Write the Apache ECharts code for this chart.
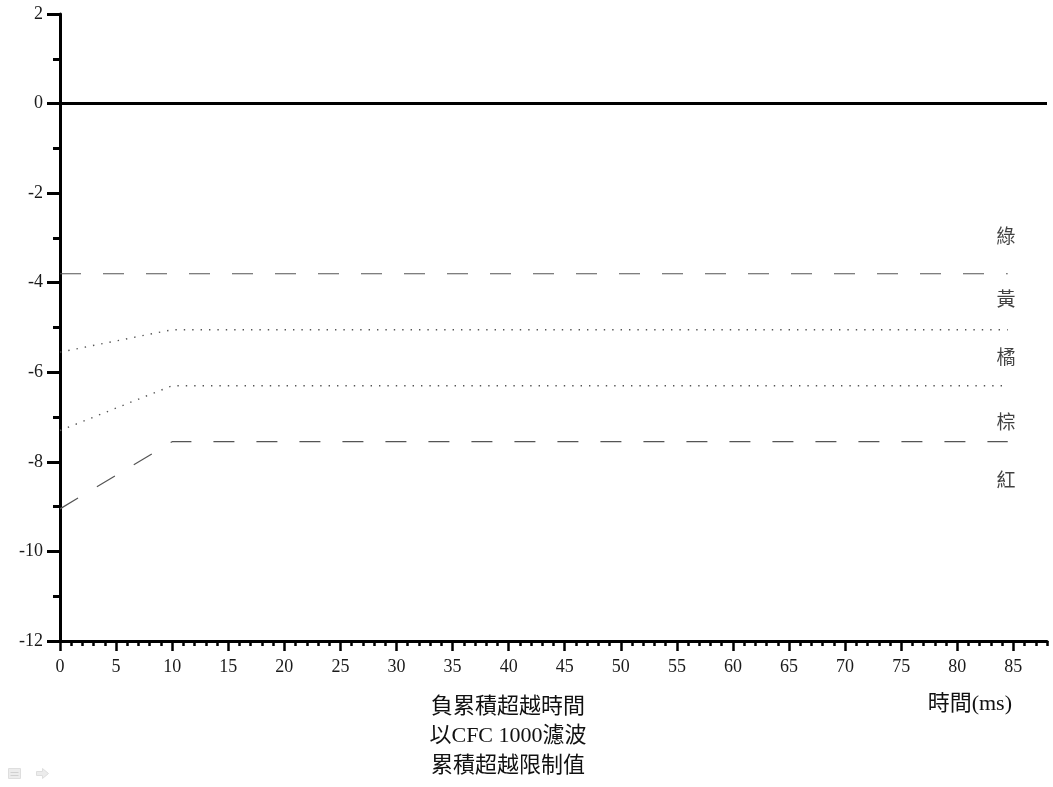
<!DOCTYPE html>
<html>
<head>
<meta charset="utf-8">
<script src="https://cdn.jsdelivr.net/npm/echarts@6/dist/echarts.min.js"></script>
<style>
  html, body { margin: 0; padding: 0; background: #fff; }
  #main { width: 1053px; height: 787px; }
</style>
</head>
<body>
<div id="main"></div>
<script>
// 數據
var xMajorTicks = [0, 5, 10, 15, 20, 25, 30, 35, 40, 45, 50, 55, 60, 65, 70, 75, 80, 85];
var zeroLine = [[0, 0], [88, 0]];
var greenYellowLine = [[0, -3.8], [84.5, -3.8]];
var yellowOrangeLine = [[0, -5.55], [10, -5.05], [84.5, -5.05]];
var orangeBrownLine = [[0, -7.3], [10, -6.3], [84.5, -6.3]];
var brownRedLine = [[0, -9.05], [10, -7.55], [84.5, -7.55]];
var zoneNames = ['綠', '黃', '橘', '棕', '紅'];
var zoneLabelY = [-2.95, -4.35, -5.65, -7.1, -8.4];
var zoneLabelX = 83.5;
var bottomLines = ['負累積超越時間', '以CFC 1000濾波', '累積超越限制值'];

var serif = '"Liberation Serif", "Noto Sans CJK TC", serif';

var myChart = echarts.init(document.getElementById('main'));

var dashStyle = { color: '#555', width: 1.2, type: [21, 22] };
var dotStyle = { color: '#555', width: 1.4, type: [1.4, 7] };

function lineSeries(data, style) {
  return {
    type: 'line',
    data: data,
    symbol: 'none',
    silent: true,
    lineStyle: style
  };
}

var option = {
  backgroundColor: '#fff',
  animation: false,
  grid: { left: 60, right: 6, top: 14, bottom: 146 },
  xAxis: [
    {
      type: 'value',
      min: 0,
      max: 88,
      interval: 5,
      splitLine: { show: false },
      axisLine: { onZero: false, lineStyle: { color: '#000', width: 3 } },
      axisTick: { customValues: xMajorTicks, length: 10, lineStyle: { color: '#000', width: 2.5 } },
      axisLabel: {
        customValues: xMajorTicks,
        margin: 17,
        color: '#1a1a1a',
        fontSize: 18,
        fontFamily: serif
      }
    },
    {
      type: 'value',
      min: 0,
      max: 88,
      interval: 1,
      position: 'bottom',
      splitLine: { show: false },
      axisLine: { show: false, onZero: false },
      axisTick: { length: 5, lineStyle: { color: '#000', width: 2.5 } },
      axisLabel: { show: false }
    }
  ],
  yAxis: {
    type: 'value',
    min: -12,
    max: 2,
    interval: 2,
    splitLine: { show: false },
    axisLine: { onZero: false, lineStyle: { color: '#000', width: 3 } },
    axisTick: { length: 13, lineStyle: { color: '#000', width: 3 } },
    minorTick: { show: true, splitNumber: 2, length: 7, lineStyle: { color: '#000', width: 3 } },
    axisLabel: { margin: 17, color: '#1a1a1a', fontSize: 18, fontFamily: serif }
  },
  series: [
    lineSeries(zeroLine, { color: '#000', width: 3, type: 'solid' }),
    lineSeries(greenYellowLine, dashStyle),
    lineSeries(yellowOrangeLine, dotStyle),
    lineSeries(orangeBrownLine, dotStyle),
    lineSeries(brownRedLine, dashStyle),
    {
      type: 'scatter',
      silent: true,
      symbolSize: 0,
      data: zoneNames.map(function (n, i) { return { value: [zoneLabelX, zoneLabelY[i]], name: n }; }),
      label: {
        show: true,
        position: 'right',
        distance: 0,
        formatter: '{b}',
        color: '#111',
        fontSize: 19,
        fontFamily: '"Noto Sans CJK TC", sans-serif'
      }
    }
  ],
  graphic: [
    {
      type: 'text',
      x: 508,
      y: 692,
      style: {
        text: bottomLines.join('\n'),
        fill: '#111',
        font: '22px "Liberation Serif", "Noto Sans CJK TC", serif',
        lineHeight: 29.5,
        align: 'center'
      }
    },
    {
      type: 'text',
      right: 41,
      top: 693,
      style: {
        text: '時間(ms)',
        fill: '#111',
        font: '22px "Liberation Serif", "Noto Sans CJK TC", serif'
      }
    },
    // 左下角圖示
    {
      type: 'group',
      left: 8,
      top: 768,
      children: [
        { type: 'rect', shape: { x: 0, y: 0, width: 12, height: 10 }, style: { fill: '#ececec', stroke: '#dedede' } },
        { type: 'line', shape: { x1: 2, y1: 4, x2: 10, y2: 4 }, style: { stroke: '#d0d0d0' } },
        { type: 'line', shape: { x1: 2, y1: 7, x2: 10, y2: 7 }, style: { stroke: '#d0d0d0' } },
        { type: 'polygon', shape: { points: [[28, 3], [34, 3], [34, 0], [40, 5], [34, 10], [34, 7], [28, 7]] }, style: { fill: '#ececec', stroke: '#dedede' } }
      ]
    }
  ]
};

myChart.setOption(option);
window.onresize = myChart.resize;
</script>
</body>
</html>
